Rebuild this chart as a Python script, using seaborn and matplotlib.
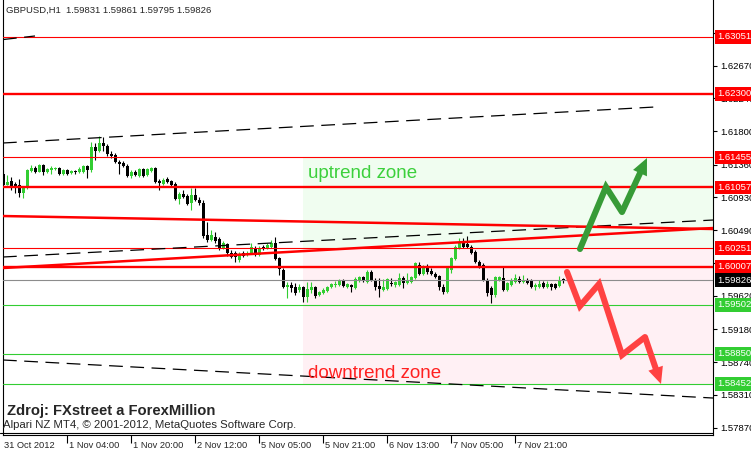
import numpy as np
import pandas as pd
import matplotlib
matplotlib.use('Agg')
import matplotlib.pyplot as plt
import matplotlib.transforms as mtransforms
from matplotlib.patches import FancyArrowPatch
import seaborn as sns

sns.set_theme(style='white')
plt.rcParams['font.family'] = ['Liberation Sans', 'DejaVu Sans']

# --- GBPUSD H1 candles ---
opens = [
    1.6123, 1.6109, 1.6114, 1.6110, 1.6109, 1.6098, 1.6105, 1.6127, 1.6131, 1.6126,
    1.6135, 1.6126, 1.6129, 1.6130, 1.6131, 1.6123, 1.6129, 1.6125, 1.6127, 1.6126,
    1.6126, 1.6134, 1.6129, 1.6159, 1.6154, 1.6165, 1.6161, 1.6150, 1.6149, 1.6139,
    1.6138, 1.6134, 1.6121, 1.6126, 1.6121, 1.6130, 1.6122, 1.6127, 1.6131, 1.6114,
    1.6110, 1.6117, 1.6114, 1.6110, 1.6090, 1.6097, 1.6094, 1.6085, 1.6096, 1.6089,
    1.6085, 1.6043, 1.6036, 1.6040, 1.6037, 1.6025, 1.6031, 1.6019, 1.6019, 1.6010,
    1.6019, 1.6016, 1.6019, 1.6025, 1.6016, 1.6027, 1.6025, 1.6027, 1.6032, 1.6012,
    1.5996, 1.5974, 1.5977, 1.5974, 1.5970, 1.5974, 1.5960, 1.5970, 1.5974, 1.5963,
    1.5966, 1.5968, 1.5974, 1.5977, 1.5977, 1.5983, 1.5974, 1.5977, 1.5973, 1.5982,
    1.5987, 1.5980, 1.5994, 1.5983, 1.5975, 1.5970, 1.5971, 1.5979, 1.5977, 1.5977,
    1.5986, 1.5979, 1.5980, 1.5986, 1.6003, 1.5991, 1.6000, 1.5995, 1.5991, 1.5988,
    1.5974, 1.5967, 1.5996, 1.6011, 1.6025, 1.6032, 1.6031, 1.6027, 1.6020, 1.6007,
    1.6003, 1.5983, 1.5973, 1.5963, 1.5983, 1.5986, 1.5970, 1.5977, 1.5980, 1.5984,
    1.5980, 1.5983, 1.5983, 1.5974, 1.5974, 1.5979, 1.5974, 1.5978, 1.5978, 1.5975,
    1.59831]
closes = [
    1.6109, 1.6113, 1.6106, 1.6108, 1.6098, 1.6105, 1.6129, 1.6131, 1.6126, 1.6135,
    1.6126, 1.6130, 1.6131, 1.6131, 1.6123, 1.6129, 1.6123, 1.6127, 1.6126, 1.6130,
    1.6134, 1.6129, 1.6159, 1.6154, 1.6165, 1.6161, 1.6150, 1.6147, 1.6139, 1.6137,
    1.6134, 1.6121, 1.6126, 1.6122, 1.6130, 1.6121, 1.6130, 1.6131, 1.6113, 1.6112,
    1.6116, 1.6113, 1.6109, 1.6090, 1.6097, 1.6093, 1.6084, 1.6096, 1.6089, 1.6085,
    1.6041, 1.6036, 1.6043, 1.6035, 1.6025, 1.6032, 1.6019, 1.6014, 1.6014, 1.6018,
    1.6015, 1.6019, 1.6027, 1.6016, 1.6025, 1.6024, 1.6029, 1.6032, 1.6011, 1.5998,
    1.5974, 1.5977, 1.5973, 1.5966, 1.5974, 1.5960, 1.5971, 1.5974, 1.5962, 1.5967,
    1.5970, 1.5974, 1.5978, 1.5978, 1.5983, 1.5975, 1.5978, 1.5974, 1.5984, 1.5987,
    1.5982, 1.5994, 1.5983, 1.5974, 1.5971, 1.5974, 1.5984, 1.5978, 1.5980, 1.5986,
    1.5979, 1.5982, 1.5987, 1.6006, 1.5991, 1.6002, 1.5994, 1.5991, 1.5987, 1.5974,
    1.5967, 1.5999, 1.6012, 1.6027, 1.6032, 1.6027, 1.6027, 1.6019, 1.6007, 1.6002,
    1.5983, 1.5966, 1.5963, 1.5987, 1.5987, 1.5970, 1.5979, 1.5983, 1.5986, 1.5980,
    1.5983, 1.5979, 1.5974, 1.5977, 1.5978, 1.5974, 1.5978, 1.5974, 1.5973, 1.5983,
    1.59826]
highs = [
    1.6129, 1.6122, 1.6119, 1.6113, 1.6117, 1.6108, 1.6130, 1.6135, 1.6134, 1.6137,
    1.6137, 1.6131, 1.6134, 1.6133, 1.6133, 1.6130, 1.6130, 1.6129, 1.6129, 1.6133,
    1.6135, 1.6135, 1.6166, 1.6165, 1.6174, 1.6172, 1.6163, 1.6154, 1.6151, 1.6142,
    1.6141, 1.6137, 1.6129, 1.6129, 1.6131, 1.6131, 1.6131, 1.6133, 1.6133, 1.6117,
    1.6118, 1.6119, 1.6116, 1.6113, 1.6100, 1.6102, 1.6097, 1.6105, 1.6105, 1.6093,
    1.6089, 1.6060, 1.6049, 1.6047, 1.6040, 1.6035, 1.6032, 1.6023, 1.6021, 1.6020,
    1.6021, 1.6021, 1.6032, 1.6028, 1.6028, 1.6029, 1.6032, 1.6036, 1.6040, 1.6014,
    1.5999, 1.5980, 1.5980, 1.5979, 1.5978, 1.5975, 1.5980, 1.5980, 1.5975, 1.5968,
    1.5973, 1.5975, 1.5979, 1.5982, 1.5984, 1.5984, 1.5979, 1.5978, 1.5987, 1.5988,
    1.5988, 1.5996, 1.5996, 1.5986, 1.5986, 1.5984, 1.5986, 1.5986, 1.5982, 1.5992,
    1.5988, 1.5992, 1.5988, 1.6007, 1.6007, 1.6003, 1.6004, 1.5999, 1.5994, 1.5990,
    1.5978, 1.6002, 1.6014, 1.6029, 1.6039, 1.6039, 1.6041, 1.6029, 1.6023, 1.6010,
    1.6006, 1.5986, 1.5975, 1.5988, 1.5988, 1.6000, 1.5980, 1.5986, 1.5991, 1.5988,
    1.5990, 1.5986, 1.5984, 1.5979, 1.5983, 1.5982, 1.5982, 1.5979, 1.5979, 1.5988,
    1.59861]
lows = [
    1.6108, 1.6109, 1.6102, 1.6098, 1.6093, 1.6092, 1.6104, 1.6126, 1.6125, 1.6126,
    1.6122, 1.6125, 1.6123, 1.6129, 1.6122, 1.6122, 1.6122, 1.6123, 1.6123, 1.6125,
    1.6125, 1.6118, 1.6126, 1.6142, 1.6153, 1.6154, 1.6147, 1.6145, 1.6138, 1.6123,
    1.6133, 1.6119, 1.6118, 1.6121, 1.6119, 1.6119, 1.6121, 1.6126, 1.6112, 1.6102,
    1.6109, 1.6112, 1.6106, 1.6089, 1.6084, 1.6092, 1.6082, 1.6076, 1.6088, 1.6082,
    1.6039, 1.6033, 1.6035, 1.6032, 1.6023, 1.6024, 1.6015, 1.6012, 1.6007, 1.6007,
    1.6014, 1.6015, 1.6018, 1.6015, 1.6015, 1.6023, 1.6024, 1.6025, 1.6010, 1.5990,
    1.5973, 1.5959, 1.5967, 1.5963, 1.5967, 1.5954, 1.5954, 1.5966, 1.5959, 1.5962,
    1.5964, 1.5967, 1.5973, 1.5974, 1.5975, 1.5974, 1.5973, 1.5967, 1.5971, 1.5980,
    1.5980, 1.5979, 1.5982, 1.5970, 1.5960, 1.5968, 1.5970, 1.5975, 1.5974, 1.5975,
    1.5973, 1.5978, 1.5979, 1.5984, 1.5990, 1.5990, 1.5991, 1.5990, 1.5986, 1.5970,
    1.5964, 1.5966, 1.5992, 1.6010, 1.6024, 1.6025, 1.6025, 1.6018, 1.6006, 1.5999,
    1.5982, 1.5962, 1.5952, 1.5960, 1.5982, 1.5968, 1.5968, 1.5975, 1.5979, 1.5979,
    1.5979, 1.5978, 1.5973, 1.5970, 1.5973, 1.5973, 1.5973, 1.5970, 1.5971, 1.5974,
    1.59795]

# time axis (bar index -> label)
tick_bars = [0, 16, 32, 48, 64, 80, 96, 112, 128]
tick_labels = ['31 Oct 2012', '1 Nov 04:00', '1 Nov 20:00', '2 Nov 12:00', '5 Nov 05:00',
               '5 Nov 21:00', '6 Nov 13:00', '7 Nov 05:00', '7 Nov 21:00']

# price scale ticks
axis_ticks = [1.63110, 1.62670, 1.62240, 1.61800, 1.61360, 1.60930, 1.60490, 1.60050,
              1.59620, 1.59180, 1.58740, 1.58310, 1.57870]

# horizontal levels
red_thin = [1.63051, 1.61455, 1.60251]
red_thick = [1.62300, 1.61057, 1.60007]
green_levels = [1.59502, 1.58850, 1.58452]
bid = 1.59826

# zones
zone_start = 75
up_zone = (1.60251, 1.61455)
down_zone = (1.58452, 1.60251)

# trend lines (bar index, price)
black_lines = [
    ([-0.1, 7.9], [1.63017, 1.63064]),
    ([-0.1, 162.9], [1.61646, 1.62123]),
    ([-0.1, 177.4], [1.60135, 1.60625]),
    ([-0.1, 177.4], [1.58770, 1.58266]),
]
red_lines = [
    ([-0.1, 177.4], [1.60678, 1.60506]),
    ([-0.1, 177.4], [1.59989, 1.60519]),
]

# forecast arrows
green_arrow_x = [144.15, 150.65, 154.65, 160.9]
green_arrow_y = [1.60241, 1.61063, 1.60731, 1.61447]
red_arrow_x = [140.9, 144.15, 148.9, 154.65, 160.4, 164.4]
red_arrow_y = [1.59936, 1.59485, 1.59777, 1.58836, 1.59074, 1.58452]

RED = '#ff0000'
LIME = '#32cd32'

fig = plt.figure(figsize=(7.51, 4.53), dpi=100)
ax = fig.add_axes([3 / 751, 18 / 453, 710 / 751, 435 / 453])
x0, x1 = -0.1, 177.4
ax.set_xlim(x0, x1)
ax.set_ylim(1.57776, 1.63541)
ax.set_facecolor('white')

# zones
zfrac = (zone_start - x0) / (x1 - x0)
ax.axhspan(*up_zone, xmin=zfrac, xmax=1, color='#f0fdf0', lw=0, zorder=0)
ax.axhspan(*down_zone, xmin=zfrac, xmax=1, color='#fff0f4', lw=0, zorder=0)

# candles
df = pd.DataFrame({'open': opens, 'high': highs, 'low': lows, 'close': closes})
df['bar'] = np.arange(len(df))
up = df['close'] >= df['open']
cols = np.where(up, LIME, 'black')
ax.vlines(df['bar'], df['low'], df['high'], colors=cols, lw=0.8, zorder=3)
body = np.maximum((df['close'] - df['open']).abs(), 0.00012)
ax.bar(df['bar'], body, bottom=np.minimum(df['open'], df['close']), width=0.75,
       color=cols, lw=0, zorder=3)

# levels
for lv in red_thin:
    ax.axhline(lv, color=RED, lw=0.8, zorder=4)
for lv in red_thick:
    ax.axhline(lv, color=RED, lw=1.7, zorder=4)
for lv in green_levels:
    ax.axhline(lv, color=LIME, lw=0.8, zorder=4)
ax.axhline(bid, color='#8c8c8c', lw=0.8, zorder=4)

# trend lines
for xs, ys in black_lines:
    sns.lineplot(x=xs, y=ys, ax=ax, color='black', lw=0.9, dashes=False,
                 linestyle=(0, (11, 6)), zorder=4)
for xs, ys in red_lines:
    sns.lineplot(x=xs, y=ys, ax=ax, color=RED, lw=1.8, zorder=4)

# arrows
def draw_arrow(xs, ys, color):
    ax.plot(xs[:-1], ys[:-1], color=color, lw=4.4, solid_joinstyle='miter',
            solid_capstyle='round', zorder=6)
    arr = FancyArrowPatch((xs[-2], ys[-2]), (xs[-1], ys[-1]),
                          arrowstyle='simple,head_length=12,head_width=11,tail_width=4.4',
                          mutation_scale=1, shrinkA=0, shrinkB=0, color=color, lw=0, zorder=6)
    ax.add_patch(arr)

draw_arrow(green_arrow_x, green_arrow_y, '#379b37')
draw_arrow(red_arrow_x, red_arrow_y, '#ff4242')

# zone labels
ax.text(76.2, 1.61182, 'uptrend zone', color='#3cd03c', fontsize=13.5, va='baseline', zorder=7)
ax.text(76.2, 1.58531, 'downtrend zone', color='#ff2020', fontsize=13.5, va='baseline', zorder=7)

# spines
for s in ['left', 'right', 'bottom']:
    ax.spines[s].set_visible(True)
    ax.spines[s].set_color('black')
    ax.spines[s].set_linewidth(0.8)
ax.spines['top'].set_visible(False)
ax.plot([-3 / 710, 1], [2.5 / 435, 2.5 / 435], transform=ax.transAxes, color='black',
        lw=0.8, clip_on=False, zorder=8)

# price axis
ax.yaxis.tick_right()
ax.set_yticks(axis_ticks)
ax.set_yticklabels([f'{t:.5f}' for t in axis_ticks])
ax.tick_params(axis='y', right=True, left=False, length=3, width=0.8, pad=2,
               labelsize=6.8, colors='black')

# time axis
ax.set_xticks(tick_bars[1:])
ax.tick_params(axis='x', bottom=True, length=6, width=0.8, labelbottom=False,
               direction='out', colors='black')
trans = mtransforms.blended_transform_factory(ax.transData, ax.transAxes)
for b, lab in zip(tick_bars, tick_labels):
    ax.text(b + (0.2 if b == 0 else 0.5), -10 / 435, lab, transform=trans, ha='left',
            va='center', fontsize=6.7, clip_on=False)

# marked price labels on the scale
ytrans = mtransforms.blended_transform_factory(ax.transAxes, ax.transData)
marks = ([(lv, RED) for lv in red_thin + red_thick] + [(bid, 'black')] +
         [(lv, LIME) for lv in green_levels])
for lv, col in marks:
    ax.text(1.0064, lv, f'{lv:.5f}', transform=ytrans, ha='left', va='center',
            color='white', fontsize=6.8, clip_on=False, zorder=9,
            bbox=dict(boxstyle='square,pad=0.25', fc=col, ec='none'))

# header / footer texts
fig.text(6 / 751, 1 - 10 / 453, 'GBPUSD,H1  1.59831 1.59861 1.59795 1.59826',
         fontsize=6.8, va='center', ha='left')
fig.text(7 / 751, 1 - 411 / 453, 'Zdroj: FXstreet a ForexMillion', fontsize=10.6,
         weight='bold', va='center', ha='left')
fig.text(3 / 751, 1 - 425 / 453, 'Alpari NZ MT4, \u00a9 2001-2012, MetaQuotes Software Corp.',
         fontsize=8.2, va='center', ha='left')

fig.savefig('out.png', dpi=100)
